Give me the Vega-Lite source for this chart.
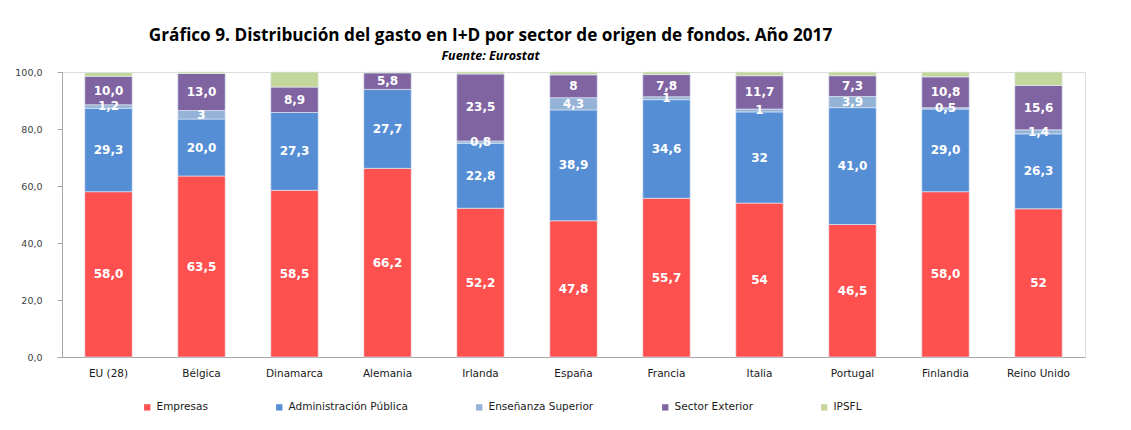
{
  "$schema": "https://vega.github.io/schema/vega-lite/v6.json",
  "width": 1023,
  "height": 285,
  "autosize": {"type": "none"},
  "padding": {"left": 62, "top": 72, "right": 46, "bottom": 73},
  "background": "white",
  "title": {
    "text": "Gráfico 9. Distribución del gasto en I+D por sector de origen de fondos. Año 2017",
    "subtitle": "Fuente: Eurostat",
    "anchor": "middle",
    "dx": -83,
    "offset": 4,
    "font": "Open Sans",
    "fontSize": 17.2,
    "fontWeight": "bold",
    "color": "#000000",
    "subtitleFont": "Open Sans",
    "subtitleFontSize": 12.5,
    "subtitleFontStyle": "italic",
    "subtitleFontWeight": "bold",
    "subtitleColor": "#000000",
    "subtitlePadding": 6
  },
  "data": {
    "values": [
      {"pais": "EU (28)", "sector": "Empresas", "k": 1, "valor": 58.0, "label": "58,0"},
      {"pais": "EU (28)", "sector": "Administración Pública", "k": 2, "valor": 29.3, "label": "29,3"},
      {"pais": "EU (28)", "sector": "Enseñanza Superior", "k": 3, "valor": 1.2, "label": "1,2"},
      {"pais": "EU (28)", "sector": "Sector Exterior", "k": 4, "valor": 10.0, "label": "10,0"},
      {"pais": "EU (28)", "sector": "IPSFL", "k": 5, "valor": 1.3, "label": ""},
      {"pais": "Bélgica", "sector": "Empresas", "k": 1, "valor": 63.5, "label": "63,5"},
      {"pais": "Bélgica", "sector": "Administración Pública", "k": 2, "valor": 20.0, "label": "20,0"},
      {"pais": "Bélgica", "sector": "Enseñanza Superior", "k": 3, "valor": 3.0, "label": "3"},
      {"pais": "Bélgica", "sector": "Sector Exterior", "k": 4, "valor": 13.0, "label": "13,0"},
      {"pais": "Bélgica", "sector": "IPSFL", "k": 5, "valor": 0.5, "label": ""},
      {"pais": "Dinamarca", "sector": "Empresas", "k": 1, "valor": 58.5, "label": "58,5"},
      {"pais": "Dinamarca", "sector": "Administración Pública", "k": 2, "valor": 27.3, "label": "27,3"},
      {"pais": "Dinamarca", "sector": "Enseñanza Superior", "k": 3, "valor": 0.0, "label": ""},
      {"pais": "Dinamarca", "sector": "Sector Exterior", "k": 4, "valor": 8.9, "label": "8,9"},
      {"pais": "Dinamarca", "sector": "IPSFL", "k": 5, "valor": 5.3, "label": ""},
      {"pais": "Alemania", "sector": "Empresas", "k": 1, "valor": 66.2, "label": "66,2"},
      {"pais": "Alemania", "sector": "Administración Pública", "k": 2, "valor": 27.7, "label": "27,7"},
      {"pais": "Alemania", "sector": "Enseñanza Superior", "k": 3, "valor": 0.0, "label": ""},
      {"pais": "Alemania", "sector": "Sector Exterior", "k": 4, "valor": 5.8, "label": "5,8"},
      {"pais": "Alemania", "sector": "IPSFL", "k": 5, "valor": 0.3, "label": ""},
      {"pais": "Irlanda", "sector": "Empresas", "k": 1, "valor": 52.2, "label": "52,2"},
      {"pais": "Irlanda", "sector": "Administración Pública", "k": 2, "valor": 22.8, "label": "22,8"},
      {"pais": "Irlanda", "sector": "Enseñanza Superior", "k": 3, "valor": 0.8, "label": "0,8"},
      {"pais": "Irlanda", "sector": "Sector Exterior", "k": 4, "valor": 23.5, "label": "23,5"},
      {"pais": "Irlanda", "sector": "IPSFL", "k": 5, "valor": 0.7, "label": ""},
      {"pais": "España", "sector": "Empresas", "k": 1, "valor": 47.8, "label": "47,8"},
      {"pais": "España", "sector": "Administración Pública", "k": 2, "valor": 38.9, "label": "38,9"},
      {"pais": "España", "sector": "Enseñanza Superior", "k": 3, "valor": 4.3, "label": "4,3"},
      {"pais": "España", "sector": "Sector Exterior", "k": 4, "valor": 8.0, "label": "8"},
      {"pais": "España", "sector": "IPSFL", "k": 5, "valor": 1.0, "label": ""},
      {"pais": "Francia", "sector": "Empresas", "k": 1, "valor": 55.7, "label": "55,7"},
      {"pais": "Francia", "sector": "Administración Pública", "k": 2, "valor": 34.6, "label": "34,6"},
      {"pais": "Francia", "sector": "Enseñanza Superior", "k": 3, "valor": 1.0, "label": "1"},
      {"pais": "Francia", "sector": "Sector Exterior", "k": 4, "valor": 7.8, "label": "7,8"},
      {"pais": "Francia", "sector": "IPSFL", "k": 5, "valor": 0.9, "label": ""},
      {"pais": "Italia", "sector": "Empresas", "k": 1, "valor": 54.0, "label": "54"},
      {"pais": "Italia", "sector": "Administración Pública", "k": 2, "valor": 32.0, "label": "32"},
      {"pais": "Italia", "sector": "Enseñanza Superior", "k": 3, "valor": 1.0, "label": "1"},
      {"pais": "Italia", "sector": "Sector Exterior", "k": 4, "valor": 11.7, "label": "11,7"},
      {"pais": "Italia", "sector": "IPSFL", "k": 5, "valor": 1.3, "label": ""},
      {"pais": "Portugal", "sector": "Empresas", "k": 1, "valor": 46.5, "label": "46,5"},
      {"pais": "Portugal", "sector": "Administración Pública", "k": 2, "valor": 41.0, "label": "41,0"},
      {"pais": "Portugal", "sector": "Enseñanza Superior", "k": 3, "valor": 3.9, "label": "3,9"},
      {"pais": "Portugal", "sector": "Sector Exterior", "k": 4, "valor": 7.3, "label": "7,3"},
      {"pais": "Portugal", "sector": "IPSFL", "k": 5, "valor": 1.3, "label": ""},
      {"pais": "Finlandia", "sector": "Empresas", "k": 1, "valor": 58.0, "label": "58,0"},
      {"pais": "Finlandia", "sector": "Administración Pública", "k": 2, "valor": 29.0, "label": "29,0"},
      {"pais": "Finlandia", "sector": "Enseñanza Superior", "k": 3, "valor": 0.5, "label": "0,5"},
      {"pais": "Finlandia", "sector": "Sector Exterior", "k": 4, "valor": 10.8, "label": "10,8"},
      {"pais": "Finlandia", "sector": "IPSFL", "k": 5, "valor": 1.7, "label": ""},
      {"pais": "Reino Unido", "sector": "Empresas", "k": 1, "valor": 52.0, "label": "52"},
      {"pais": "Reino Unido", "sector": "Administración Pública", "k": 2, "valor": 26.3, "label": "26,3"},
      {"pais": "Reino Unido", "sector": "Enseñanza Superior", "k": 3, "valor": 1.4, "label": "1,4"},
      {"pais": "Reino Unido", "sector": "Sector Exterior", "k": 4, "valor": 15.6, "label": "15,6"},
      {"pais": "Reino Unido", "sector": "IPSFL", "k": 5, "valor": 4.7, "label": ""}
    ]
  },
  "transform": [
    {"stack": "valor", "groupby": ["pais"], "sort": [{"field": "k", "order": "ascending"}], "as": ["y0", "y1"]},
    {"calculate": "(datum.y0 + datum.y1) / 2", "as": "ymid"}
  ],
  "encoding": {
    "x": {
      "field": "pais",
      "type": "nominal",
      "sort": null,
      "title": null,
      "scale": {"paddingInner": 0.49, "paddingOuter": 0.245},
      "axis": {
        "labelAngle": 0,
        "labelFont": "DejaVu Sans",
        "labelFontSize": 10.5,
        "labelColor": "#1a1a1a",
        "labelPadding": 11,
        "ticks": false,
        "domainColor": "#a6a6a6",
        "domainWidth": 1
      }
    }
  },
  "layer": [
    {
      "mark": {"type": "bar", "stroke": "#e6eef8", "strokeWidth": 0.6},
      "encoding": {
        "y": {
          "field": "y0",
          "type": "quantitative",
          "scale": {"domain": [0, 100], "nice": false},
          "title": null,
          "axis": {
            "values": [0, 20, 40, 60, 80, 100],
            "labelExpr": "replace(format(datum.value, '.1f'), '.', ',')",
            "labelFont": "DejaVu Sans",
            "labelFontSize": 9.5,
            "labelColor": "#404040",
            "grid": false,
            "tickSize": 5,
            "tickColor": "#a6a6a6",
            "domainColor": "#a6a6a6",
            "labelPadding": 15
          }
        },
        "y2": {"field": "y1"},
        "color": {
          "field": "sector",
          "type": "nominal",
          "sort": ["Empresas", "Administración Pública", "Enseñanza Superior", "Sector Exterior", "IPSFL"],
          "scale": {
            "domain": ["Empresas", "Administración Pública", "Enseñanza Superior", "Sector Exterior", "IPSFL"],
            "range": ["#FF5050", "#558ED5", "#95B3D7", "#8064A2", "#C3D69B"]
          },
          "legend": {
            "title": null,
            "orient": "none",
            "direction": "horizontal",
            "legendX": 80,
            "legendY": 330,
            "symbolType": "square",
            "symbolSize": 40,
            "symbolStrokeWidth": 0,
            "labelFont": "DejaVu Sans",
            "labelFontSize": 10.5,
            "labelColor": "#1a1a1a",
            "columnPadding": 66,
            "labelOffset": 4
          }
        }
      }
    },
    {
      "mark": {"type": "text", "color": "white", "font": "DejaVu Sans", "fontSize": 12, "fontWeight": "bold", "baseline": "middle", "align": "center"},
      "encoding": {
        "y": {"field": "ymid", "type": "quantitative"},
        "text": {"field": "label"}
      }
    }
  ]
}
